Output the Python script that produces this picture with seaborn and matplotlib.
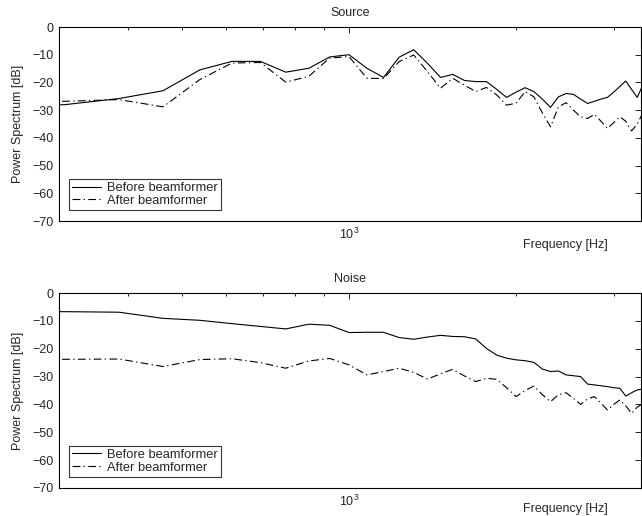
import numpy as np
import pandas as pd
import matplotlib
matplotlib.use("Agg")
import matplotlib.pyplot as plt
import seaborn as sns
from matplotlib.ticker import LogLocator, NullFormatter, FixedLocator

# frequency bins [Hz]
freqs = [231, 308, 385, 462, 538, 615, 692, 769, 846, 923, 1000, 1077, 1154, 1231,
         1308, 1385, 1462, 1538, 1615, 1692, 1769, 1846, 1923, 2000, 2077, 2154,
         2231, 2308, 2385, 2462, 2538, 2615, 2692, 2769, 2846, 2923, 3000, 3077,
         3154, 3231, 3308, 3385]

src_before = [-29.0, -28.0, -25.8, -23.0, -15.5, -12.4, -12.4, -16.3, -14.9, -10.8,
              -10.0, -14.9, -18.2, -10.9, -8.2, -13.1, -18.2, -17.1, -19.3, -19.7,
              -19.7, -22.5, -25.4, -23.5, -21.9, -23.3, -26.0, -29.0, -25.2, -24.0,
              -24.3, -26.0, -27.6, -26.8, -26.0, -25.4, -23.5, -21.5, -19.5, -22.5,
              -25.4, -21.0]
src_after = [-27.5, -26.8, -26.2, -28.8, -19.0, -13.0, -12.8, -19.9, -17.8, -11.2,
             -10.7, -18.5, -18.6, -12.5, -10.1, -16.1, -22.1, -18.5, -21.0, -23.3,
             -21.8, -24.5, -28.2, -27.5, -23.3, -25.2, -31.0, -36.0, -28.8, -27.3,
             -30.0, -32.4, -33.0, -31.5, -34.0, -36.6, -34.5, -32.4, -34.0, -37.5,
             -35.0, -31.0]
noise_before = [-6.6, -6.7, -6.9, -9.1, -9.8, -11.0, -12.0, -12.9, -11.2, -11.6,
                -14.2, -14.1, -14.1, -16.0, -16.6, -15.8, -15.2, -15.6, -15.7, -16.5,
                -19.9, -22.3, -23.4, -24.0, -24.3, -24.9, -27.3, -28.2, -28.0, -29.4,
                -29.7, -30.0, -32.7, -33.0, -33.3, -33.6, -34.0, -34.2, -37.0, -35.8,
                -34.8, -34.5]
noise_after = [-23.9, -23.8, -23.7, -26.4, -23.9, -23.6, -25.0, -27.0, -24.4, -23.5,
               -25.8, -29.4, -28.2, -27.0, -28.5, -30.9, -29.0, -27.4, -29.8, -31.8,
               -30.6, -31.0, -34.0, -37.2, -35.0, -33.4, -36.5, -39.0, -36.5, -35.8,
               -37.8, -40.0, -38.0, -37.2, -39.5, -42.0, -40.0, -38.4, -40.5, -43.2,
               -41.0, -39.6]

titles = ["Source", "Noise"]
labels = ["Before beamformer", "After beamformer"]

sns.set_style("white")
plt.rcParams['font.family'] = ['Liberation Sans', 'DejaVu Sans']
plt.rcParams['font.size'] = 9
plt.rcParams['axes.unicode_minus'] = True

fig = plt.figure(figsize=(6.42, 5.16), dpi=100)
ax_top = fig.add_axes([59/642, 1-221/516, 582/642, 194/516])
ax_bot = fig.add_axes([59/642, 1-488/516, 582/642, 195/516])

data = [(src_before, src_after), (noise_before, noise_after)]
xlabel_y = [-0.095, -0.078]

for ax, title, (before, after), ly in zip([ax_top, ax_bot], titles, data, xlabel_y):
    df = pd.DataFrame({"f": freqs, "before": before, "after": after})
    sns.lineplot(data=df, x="f", y="before", ax=ax, color="k", linewidth=0.8,
                 label=labels[0])
    sns.lineplot(data=df, x="f", y="after", ax=ax, color="k", linewidth=0.8,
                 linestyle=(0, (7, 3, 1.2, 3)), label=labels[1])
    ax.set_xscale("log")
    ax.set_xlim(300, 3360)
    ax.set_ylim(-70, 0)
    ax.set_yticks(np.arange(-70, 1, 10))
    ax.xaxis.set_major_locator(FixedLocator([1000]))
    ax.xaxis.set_minor_locator(LogLocator(base=10, subs=np.arange(2, 10)))
    ax.xaxis.set_minor_formatter(NullFormatter())
    ax.tick_params(which="both", direction="in", top=True, right=True,
                   labelsize=9, color="k", width=0.6)
    ax.tick_params(which="major", length=4, pad=4)
    ax.tick_params(which="minor", length=2.5)
    for s in ax.spines.values():
        s.set_color("k")
        s.set_linewidth(0.8)
    ax.set_title(title, fontsize=9, pad=8)
    ax.set_ylabel("Power Spectrum [dB]", fontsize=9, labelpad=6)
    ax.set_xlabel("Frequency [Hz]", fontsize=9)
    ax.xaxis.set_label_coords(0.87, ly)
    leg = ax.legend(loc="lower left", bbox_to_anchor=(0.017, 0.057), frameon=True,
                    fancybox=False, edgecolor="k", fontsize=9.3, handlelength=2.2,
                    borderpad=0.25, labelspacing=0.05, handletextpad=0.5,
                    borderaxespad=0)
    leg.get_frame().set_linewidth(0.8)

fig.savefig("out.png", dpi=100)
